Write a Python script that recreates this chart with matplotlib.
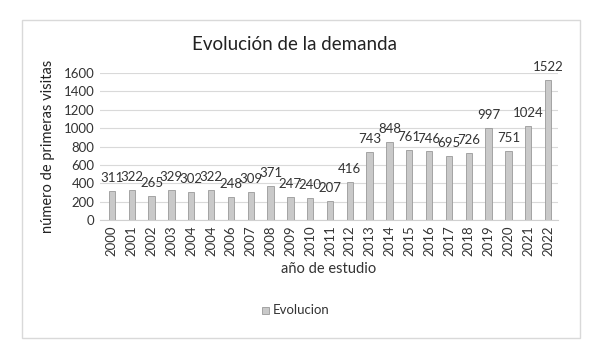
import matplotlib
matplotlib.use("Agg")
import matplotlib.pyplot as plt
from matplotlib.patches import Rectangle

years = ["2000", "2001", "2002", "2003", "2004", "2004", "2006", "2007", "2008", "2009",
         "2010", "2011", "2012", "2013", "2014", "2015", "2016", "2017", "2018", "2019",
         "2020", "2021", "2022"]
values = [311, 322, 265, 329, 302, 322, 248, 309, 371, 247, 240, 207, 416, 743, 848,
          761, 746, 695, 726, 997, 751, 1024, 1522]
yticks = [0, 200, 400, 600, 800, 1000, 1200, 1400, 1600]

plt.rcParams['font.family'] = ['Lato', 'DejaVu Sans']
txt = '#333333'

fig = plt.figure(figsize=(6.02, 3.51), dpi=100)
fig.patch.set_facecolor('white')
fig.patches.append(Rectangle((22/602, 1-338/351), (580-22)/602, (338-20)/351,
                             transform=fig.transFigure, fill=False,
                             edgecolor='#d9d9d9', linewidth=1.0))

ax = fig.add_axes([100/602, 1-220/351, (558-100)/602, (220-73)/351])
x = list(range(len(values)))
ax.bar(x, values, width=0.32, color='#c9c9c9', edgecolor='#9a9a9a', linewidth=0.6, zorder=3)
for xi, v in zip(x, values):
    ax.annotate(str(v), (xi, v), xytext=(0, 5), textcoords='offset points',
                ha='center', va='bottom', fontsize=9.5, color=txt)

ax.set_xlim(-0.6, 22.5)
ax.set_ylim(0, 1600)
ax.set_yticks(yticks)
ax.set_yticklabels([str(t) for t in yticks], fontsize=9.5, color=txt)
ax.set_xticks(x)
ax.set_xticklabels(years, rotation=90, fontsize=9.5, color=txt)
ax.tick_params(axis='both', length=0, pad=4)
ax.grid(axis='y', color='#d9d9d9', linewidth=0.8, zorder=0)
for s in ['top', 'right', 'left']:
    ax.spines[s].set_visible(False)
ax.spines['bottom'].set_color('#d0d0d0')
ax.set_ylabel('número de primeras visitas', fontsize=10.5, color='#222222', labelpad=6)
ax.set_xlabel('año de estudio', fontsize=10.5, color=txt, labelpad=4)

fig.text(295/602, 1-45/351, 'Evolución de la demanda', ha='center', va='center',
         fontsize=13.5, color='#222222')

# legend
fig.patches.append(Rectangle((262/602, 1-314/351), 7/602, 7/351, transform=fig.transFigure,
                             facecolor='#c9c9c9', edgecolor='#9a9a9a', linewidth=0.6))
fig.text(273/602, 1-310/351, 'Evolucion', ha='left', va='center', fontsize=9.5, color=txt)

fig.savefig('out.png', dpi=100)
